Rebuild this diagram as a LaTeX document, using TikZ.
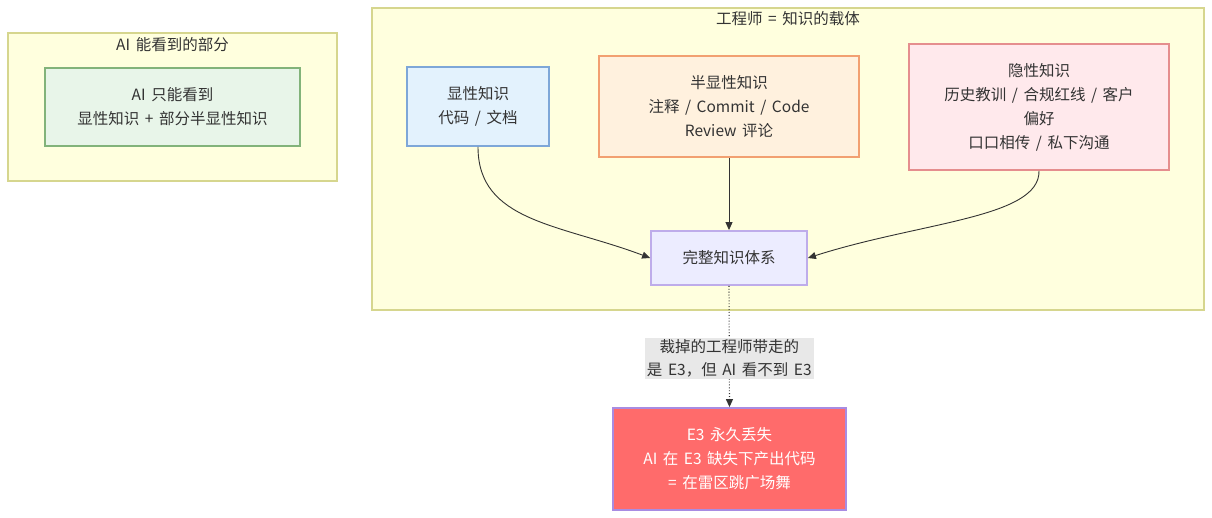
\documentclass[tikz,border=0pt]{standalone}
\usepackage{fontspec}
\setmainfont{Noto Sans CJK SC}[WordSpace=1.6]
\usepackage{tikz}
\usetikzlibrary{arrows.meta,positioning}
\definecolor{txtGray}{HTML}{333333}
\definecolor{clusFill}{HTML}{FFFFDE}
\definecolor{clusLine}{HTML}{D6D68E}
\definecolor{arrGray}{HTML}{333333}
\definecolor{greenFill}{HTML}{E8F5E9}
\definecolor{greenLine}{RGB}{130,179,122}
\definecolor{blueFill}{RGB}{227,242,253}
\definecolor{blueLine}{RGB}{126,167,216}
\definecolor{orangeFill}{RGB}{255,241,222}
\definecolor{orangeLine}{RGB}{242,160,113}
\definecolor{pinkFill}{RGB}{255,233,236}
\definecolor{pinkLine}{RGB}{229,142,142}
\definecolor{lavFill}{RGB}{236,236,255}
\definecolor{lavLine}{RGB}{190,172,234}
\definecolor{redFill}{RGB}{255,107,107}
\definecolor{redLine}{RGB}{168,140,226}
\tikzset{
  clus/.style={draw=clusLine,fill=clusFill,line width=1.5pt,inner sep=0pt},
  ctitle/.style={font=\fontsize{15.5}{24}\selectfont,text=txtGray,inner sep=0pt},
  knode/.style={draw,line width=1.8pt,inner sep=0pt,align=center,
                font=\fontsize{15.5}{24}\selectfont,text=txtGray},
  arr/.style={-{Triangle[length=8pt,width=7pt]},line width=0.9pt,arrGray},
  darr/.style={arr,dotted,line width=1.1pt},
  elab/.style={fill=black!9,inner sep=2pt,align=center,
               font=\fontsize{15.5}{23}\selectfont,text=txtGray},
}

\begin{document}
\begin{tikzpicture}[x=1pt,y=-1pt]
  \useasboundingbox (0,0) rectangle (1212,518);
  % clusters
  \node[clus,minimum width=329pt,minimum height=148pt] (aiview) at (172.5,107) {};
  \node[ctitle] (aiviewT) at (172.5,45) {AI 能看到的部分};
  \node[clus,minimum width=832pt,minimum height=302pt] (eng) at (788,159) {};
  \node[ctitle] (engT) at (788,19) {工程师 = 知识的载体};
  % knowledge nodes
  \node[knode,fill=greenFill,draw=greenLine,
        minimum width=255pt,minimum height=78pt] (aisee) at (172.5,107)
        {AI 只能看到\\显性知识 + 部分半显性知识};
  \node[knode,fill=blueFill,draw=blueLine,
        minimum width=142pt,minimum height=79pt] (e1) at (478,106.5)
        {显性知识\\代码 / 文档};
  \node[knode,fill=orangeFill,draw=orangeLine,
        minimum width=260pt,minimum height=101pt] (e2) at (729,106.5)
        {半显性知识\\注释 / Commit / Code\\Review 评论};
  \node[knode,fill=pinkFill,draw=pinkLine,
        minimum width=260pt,minimum height=126pt] (e3) at (1039,107)
        {隐性知识\\历史教训 / 合规红线 / 客户\\偏好\\口口相传 / 私下沟通};
  \node[knode,fill=lavFill,draw=lavLine,
        minimum width=156pt,minimum height=54pt] (whole) at (729,258)
        {完整知识体系};
  \node[knode,fill=redFill,draw=redLine,text=white,
        minimum width=233pt,minimum height=102pt] (lost) at (729.5,459)
        {E3 永久丢失\\AI 在 E3 缺失下产出代码\\= 在雷区跳广场舞};
  % connectors
  \draw[arr] (e1.south) .. controls (478,222) and (560,224) .. (whole.west);
  \draw[arr] (e2.south) -- (whole.north);
  \draw[arr] (e3.south) .. controls (1040,218) and (920,222) .. (whole.east);
  \draw[darr] (whole.south) -- node[elab,pos=0.6] (cut) {裁掉的工程师带走的\\是 E3，但 AI 看不到 E3} (lost.north);
\end{tikzpicture}
\end{document}
